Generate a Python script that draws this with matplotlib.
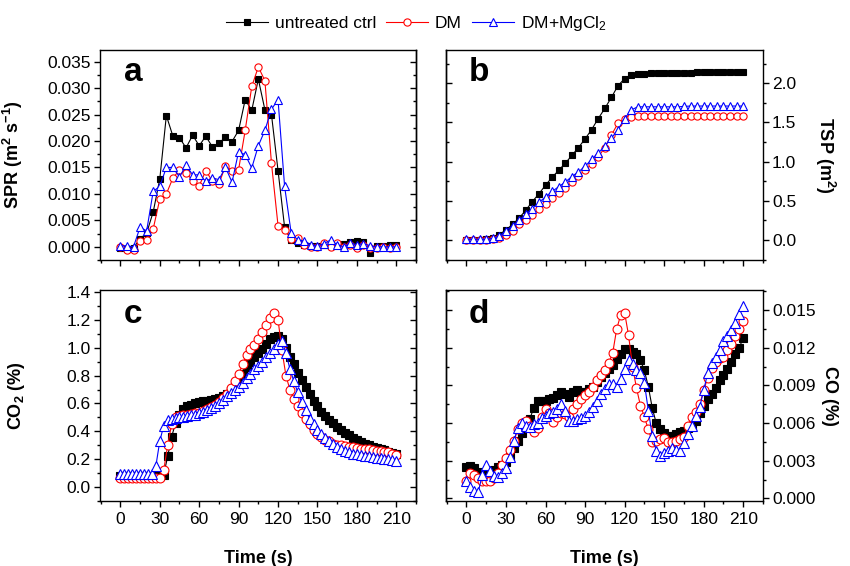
import numpy as np
import matplotlib
matplotlib.use("Agg")
import matplotlib.pyplot as plt
from matplotlib.ticker import MultipleLocator, FormatStrFormatter
from matplotlib.lines import Line2D

plt.rcParams['font.family'] = ['Liberation Sans', 'DejaVu Sans']
plt.rcParams['mathtext.fontset'] = 'custom'
plt.rcParams['mathtext.rm'] = 'Liberation Sans'
plt.rcParams['mathtext.bf'] = 'Liberation Sans:bold'
plt.rcParams['mathtext.it'] = 'Liberation Sans:italic'

series_names = ["untreated ctrl", "DM", "DM+MgCl$_2$"]

# ---- Panel a / b : 5 s sampling ----
t5 = np.arange(0, 211, 5)
spr_ctrl = [-0.0003, -0.0004, -0.0002, 0.0015, 0.0026, 0.0066, 0.0128, 0.0248, 0.0209, 0.0206,
            0.0187, 0.0211, 0.0191, 0.0209, 0.0189, 0.0196, 0.0207, 0.0199, 0.0220, 0.0278,
            0.0258, 0.0317, 0.0259, 0.0250, 0.0144, 0.0037, 0.0013, 0.0008, 0.0004, 0.0002,
            0.0001, 0.0003, 0.0002, 0.0005, 0.0006, 0.0009, 0.0010, 0.0009, -0.0012, 0.0001,
            0.0002, 0.0003, 0.0003]
spr_dm = [0.0000, -0.0007, -0.0007, 0.0010, 0.0012, 0.0034, 0.0090, 0.0100, 0.0130, 0.0145,
          0.0140, 0.0125, 0.0115, 0.0144, 0.0124, 0.0119, 0.0153, 0.0144, 0.0146, 0.0220,
          0.0303, 0.0340, 0.0314, 0.0158, 0.0040, 0.0032, 0.0014, 0.0016, 0.0004, 0.0000,
          0.0000, 0.0008, 0.0000, 0.0008, 0.0000, 0.0003, -0.0003, 0.0003, -0.0003, -0.0003,
          0.0000, -0.0002, 0.0000]
spr_mg = [0.0002, 0.0002, 0.0000, 0.0037, 0.0030, 0.0105, 0.0114, 0.0150, 0.0150, 0.0132,
          0.0154, 0.0136, 0.0136, 0.0124, 0.0130, 0.0127, 0.0150, 0.0122, 0.0180, 0.0174,
          0.0149, 0.0191, 0.0220, 0.0260, 0.0278, 0.0114, 0.0026, 0.0013, 0.0011, 0.0004,
          0.0002, 0.0006, 0.0013, 0.0004, 0.0000, 0.0007, 0.0004, 0.0006, 0.0002, 0.0000,
          0.0000, 0.0000, 0.0000]

tsp_ctrl = [0, 0, 0, 0.01, 0.03, 0.07, 0.13, 0.20, 0.28, 0.38, 0.49, 0.59, 0.70, 0.80, 0.89,
            0.98, 1.08, 1.18, 1.29, 1.41, 1.55, 1.68, 1.82, 1.97, 2.06, 2.11,
            2.12, 2.125, 2.13, 2.13, 2.13, 2.13, 2.135, 2.135, 2.135, 2.14, 2.14, 2.14, 2.14,
            2.14, 2.14, 2.14, 2.14]
tsp_dm = [0, 0, 0, 0, 0.01, 0.03, 0.06, 0.12, 0.20, 0.26, 0.32, 0.39, 0.46, 0.53, 0.60,
          0.67, 0.74, 0.82, 0.89, 0.97, 1.06, 1.18, 1.34, 1.49, 1.55, 1.57,
          1.58, 1.58, 1.58, 1.58, 1.58, 1.58, 1.58, 1.58, 1.58, 1.58, 1.58, 1.58, 1.58,
          1.58, 1.58, 1.58, 1.58]
tsp_mg = [0.01, 0.01, 0.01, 0.01, 0.02, 0.05, 0.12, 0.18, 0.25, 0.33, 0.40, 0.48, 0.55, 0.62,
          0.68, 0.74, 0.81, 0.87, 0.94, 1.03, 1.11, 1.20, 1.30, 1.41, 1.55, 1.66, 1.70,
          1.70, 1.70, 1.70, 1.70, 1.70, 1.70, 1.705, 1.71, 1.71, 1.71, 1.71, 1.71, 1.71,
          1.71, 1.71, 1.71]

# ---- Panel c / d : 3 s sampling ----
t3 = np.arange(0, 211, 3)
co2_ctrl = [0.08, 0.08, 0.08, 0.08, 0.08, 0.08, 0.08, 0.08, 0.08, 0.08, 0.08,
            0.09, 0.22, 0.36, 0.46, 0.52, 0.56, 0.58, 0.59, 0.60, 0.61,
            0.615, 0.62, 0.625, 0.63, 0.64, 0.65, 0.665, 0.69, 0.72, 0.76,
            0.81, 0.86, 0.90, 0.93, 0.96, 0.99, 1.03, 1.06, 1.08, 1.085,
            1.06, 1.00, 0.935, 0.88, 0.82, 0.77, 0.72, 0.67, 0.62, 0.58,
            0.54, 0.51, 0.48, 0.46, 0.43, 0.41, 0.39, 0.37, 0.35, 0.335,
            0.32, 0.31, 0.30, 0.29, 0.28, 0.27, 0.265, 0.255, 0.245, 0.235]
co2_dm = [0.065, 0.065, 0.065, 0.065, 0.065, 0.065, 0.065, 0.065, 0.065, 0.065, 0.065,
          0.12, 0.30, 0.45, 0.50, 0.51, 0.52, 0.52, 0.525, 0.53, 0.535,
          0.545, 0.56, 0.575, 0.59, 0.61, 0.64, 0.67, 0.71, 0.76, 0.81,
          0.88, 0.95, 0.99, 1.02, 1.06, 1.11, 1.16, 1.21, 1.25, 1.20,
          0.98, 0.80, 0.70, 0.63, 0.58, 0.53, 0.49, 0.45, 0.41, 0.38,
          0.36, 0.34, 0.33, 0.31, 0.30, 0.30, 0.295, 0.29, 0.285, 0.28,
          0.275, 0.27, 0.27, 0.265, 0.26, 0.26, 0.255, 0.25, 0.24, 0.23]
co2_mg = [0.095, 0.095, 0.095, 0.095, 0.095, 0.095, 0.095, 0.095, 0.095,
          0.15, 0.33, 0.44, 0.48, 0.49, 0.495, 0.50, 0.505, 0.51, 0.515,
          0.52, 0.53, 0.54, 0.555, 0.57, 0.585, 0.60, 0.625, 0.65, 0.675,
          0.70, 0.72, 0.75, 0.78, 0.81, 0.845, 0.87, 0.90, 0.93, 0.96,
          0.99, 1.03, 1.05, 0.96, 0.85, 0.76, 0.68, 0.61, 0.55, 0.49,
          0.45, 0.41, 0.38, 0.35, 0.33, 0.31, 0.29, 0.27, 0.26, 0.25,
          0.24, 0.235, 0.23, 0.225, 0.22, 0.215, 0.21, 0.205, 0.20, 0.20,
          0.195, 0.19]

co_ctrl = [0.0025, 0.0026, 0.0024, 0.0021, 0.0019, 0.0017, 0.0020, 0.0023, 0.0025, 0.0027,
           0.0029, 0.0033, 0.0040, 0.0046, 0.0052, 0.0058, 0.0063, 0.0072, 0.0078, 0.0078,
           0.0078, 0.0079, 0.0080, 0.0082, 0.0085, 0.0083, 0.0081, 0.0085, 0.0086, 0.0085,
           0.0085, 0.0087, 0.0089, 0.0093, 0.0097, 0.0100, 0.0103, 0.0106, 0.0111, 0.0115,
           0.0119, 0.0119, 0.0117, 0.0115, 0.0110, 0.0102, 0.0089, 0.0072, 0.0060, 0.0055,
           0.0052, 0.0050, 0.0050, 0.0051, 0.0053, 0.0054, 0.0056, 0.0058, 0.0062, 0.0068,
           0.0074, 0.0079, 0.0083, 0.0088, 0.0094, 0.0098, 0.0103, 0.0109, 0.0115, 0.0120,
           0.0128]
co_dm = [0.0014, 0.0020, 0.0019, 0.0016, 0.0014, 0.0014, 0.0014, 0.0016, 0.0020, 0.0027,
         0.0032, 0.0039, 0.0046, 0.0055, 0.0060, 0.0062, 0.0058, 0.0053, 0.0056, 0.0065,
         0.0071, 0.0068, 0.0061, 0.0065, 0.0068, 0.0067, 0.0065, 0.0071, 0.0075, 0.0079,
         0.0082, 0.0085, 0.0089, 0.0094, 0.0098, 0.0102, 0.0108, 0.0116, 0.0135, 0.0146,
         0.0148, 0.0130, 0.0105, 0.0088, 0.0074, 0.0065, 0.0055, 0.0045, 0.0046, 0.0047,
         0.0048, 0.0045, 0.0045, 0.0046, 0.0047, 0.0049, 0.0058, 0.0065, 0.0069, 0.0075,
         0.0086, 0.0096, 0.0104, 0.0109, 0.0112, 0.0113, 0.0118, 0.0123, 0.0129, 0.0135,
         0.0141]
co_mg = [0.0014, 0.0009, 0.0006, 0.0005, 0.0019, 0.0027, 0.0022, 0.0018, 0.0017, 0.0020,
         0.0024, 0.0033, 0.0046, 0.0056, 0.0060, 0.0058, 0.0057, 0.0059, 0.0060, 0.0064,
         0.0066, 0.0068, 0.0069, 0.0071, 0.0075, 0.0070, 0.0062, 0.0062, 0.0063, 0.0064,
         0.0066, 0.0069, 0.0073, 0.0078, 0.0083, 0.0087, 0.0091, 0.0091, 0.0089, 0.0095,
         0.0103, 0.0110, 0.0107, 0.0102, 0.0100, 0.0092, 0.0070, 0.0050, 0.0038, 0.0034,
         0.0036, 0.0038, 0.0040, 0.0039, 0.0038, 0.0044, 0.0051, 0.0058, 0.0066, 0.0073,
         0.0086, 0.0100, 0.0108, 0.0113, 0.0118, 0.0125, 0.0129, 0.0134, 0.0140, 0.0147,
         0.0153]

x_ticks = [0, 30, 60, 90, 120, 150, 180, 210]

styles = [
    dict(color='black', marker='s', mfc='black', mec='black', ms=4.6),
    dict(color='red', marker='o', mfc='white', mec='red', ms=5.2),
    dict(color='blue', marker='^', mfc='white', mec='blue', ms=5.8),
]
dense_ms = [6.0, 6.4, 7.0]

fig = plt.figure(figsize=(8.5, 5.66), dpi=100)
W, H = 850.0, 566.0
def rect(l, t, r, b):
    return [l / W, 1 - b / H, (r - l) / W, (b - t) / H]

ax_a = fig.add_axes(rect(100, 50, 416, 260))
ax_b = fig.add_axes(rect(446, 50, 763, 260))
ax_c = fig.add_axes(rect(100, 290, 416, 501))
ax_d = fig.add_axes(rect(446, 290, 763, 501))

def plot_series(ax, t, ys, dense=False):
    for i, (y, st) in enumerate(zip(ys, styles)):
        kw = dict(st)
        if dense:
            kw['ms'] = dense_ms[i]
        ax.plot(t[:len(y)], y, lw=0.8, mew=0.8, **kw)

plot_series(ax_a, t5, [spr_ctrl, spr_dm, spr_mg])
plot_series(ax_b, t5, [tsp_ctrl, tsp_dm, tsp_mg])
plot_series(ax_c, t3, [co2_ctrl, co2_dm, co2_mg], dense=True)
plot_series(ax_d, t3, [co_ctrl, co_dm, co_mg], dense=True)

def style(ax, ylim, major, minor, fmt, side, show_x):
    ax.set_xlim(-15.5, 225)
    ax.set_ylim(*ylim)
    ax.set_xticks(x_ticks)
    ax.xaxis.set_minor_locator(MultipleLocator(15))
    ax.yaxis.set_major_locator(MultipleLocator(major))
    ax.yaxis.set_minor_locator(MultipleLocator(minor))
    ax.yaxis.set_major_formatter(FormatStrFormatter(fmt))
    for sp in ax.spines.values():
        sp.set_linewidth(1.0)
    ax.tick_params(axis='x', which='major', direction='out', length=4, width=1,
                   labelsize=12.5, pad=4, top=False, labelbottom=show_x)
    ax.tick_params(axis='x', which='minor', direction='out', length=2.2, width=1, top=False)
    if side == 'left':
        ax.yaxis.tick_left()
    else:
        ax.yaxis.tick_right()
    ax.tick_params(axis='y', which='major', direction='out', length=4, width=1,
                   labelsize=12.5, pad=2.5)
    ax.tick_params(axis='y', which='minor', direction='out', length=2.2, width=1)
    other = 'right' if side == 'left' else 'left'
    sec = ax.secondary_yaxis(other)
    sec.yaxis.set_major_locator(MultipleLocator(major))
    sec.yaxis.set_minor_locator(MultipleLocator(minor))
    sec.tick_params(axis='y', which='major', direction='in', length=4, width=1,
                    labelleft=False, labelright=False)
    sec.tick_params(axis='y', which='minor', direction='in', length=2.2, width=1)
    sec.spines[other].set_linewidth(1.0)

style(ax_a, (-0.0025, 0.0372), 0.005, 0.0025, '%.3f', 'left', False)
style(ax_b, (-0.255, 2.425), 0.5, 0.25, '%.1f', 'right', False)
style(ax_c, (-0.1, 1.414), 0.2, 0.1, '%.1f', 'left', True)
style(ax_d, (-0.0002, 0.0166), 0.003, 0.0015, '%.3f', 'right', True)

lab_kw = dict(fontsize=13, fontweight='bold')
ax_a.set_ylabel(r'SPR (m$^{\mathbf{2}}$ s$^{\mathbf{-1}}$)', **lab_kw)
ax_a.yaxis.set_label_coords(-0.237, 0.5)
ax_c.set_ylabel(r'CO$_{\mathbf{2}}$ (%)', **lab_kw)
ax_c.yaxis.set_label_coords(-0.231, 0.5)
ax_b.set_ylabel(r'TSP (m$^{\mathbf{2}}$)', rotation=270, **lab_kw)
ax_b.yaxis.set_label_position('right')
ax_b.yaxis.set_label_coords(1.233, 0.5)
ax_d.set_ylabel('CO (%)', rotation=270, **lab_kw)
ax_d.yaxis.set_label_position('right')
ax_d.yaxis.set_label_coords(1.237, 0.5)
for ax in (ax_c, ax_d):
    ax.set_xlabel('Time (s)', **lab_kw)
    ax.xaxis.set_label_coords(0.5, -0.232)

for ax, letter, yb in ((ax_a, 'a', 0.852), (ax_b, 'b', 0.852), (ax_c, 'c', 0.844), (ax_d, 'd', 0.844)):
    ax.text(0.104, yb, letter, transform=ax.transAxes, fontsize=24, fontweight='bold',
            ha='center', va='baseline')

handles = [Line2D([], [], lw=0.8, mew=0.8, **st) for st in styles]
fig.legend(handles, series_names, loc='center', bbox_to_anchor=(0.49, 0.958), ncol=3,
           frameon=False, fontsize=12.5, handlelength=2.4, handletextpad=0.4,
           columnspacing=0.6)

fig.savefig('out.png', dpi=100)
